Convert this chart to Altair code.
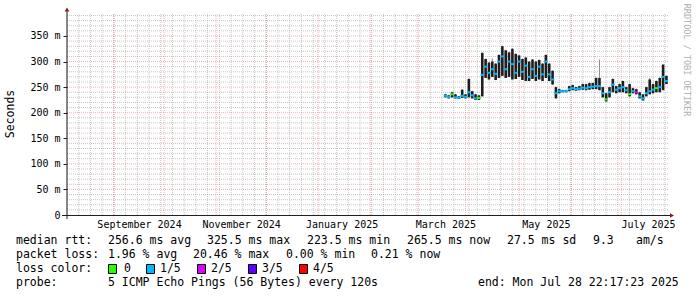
import altair as alt
import pandas as pd

MONO = "DejaVu Sans Mono"

# ---------------- data ----------------
START = "2025-03-17"
STEP_DAYS = 2
median_ms = [233, 231, 236, 230, 229, 233, 231, 240, 234, 228,
             229, 274, 290, 278, 285, 276, 300, 310, 285, 300,
             295, 278, 300, 280, 292, 270, 285, 272, 290, 275,
             300, 275, 265, 238, 242, 242, 242, 246, 248, 246,
             247, 249, 248, 250, 251, 252, 252, 238, 226, 240,
             255, 245, 248, 250, 244, 236, 242, 240, 232, 228,
             238, 242, 245, 248, 250, 270, 262]
low_ms = [230, 228, 230, 228, 227, 229, 228, 230, 228, 225,
          225, 232, 268, 265, 270, 264, 268, 272, 268, 270,
          265, 266, 270, 264, 262, 262, 266, 262, 265, 262,
          268, 262, 255, 228, 238, 240, 240, 242, 244, 243,
          244, 245, 244, 245, 246, 246, 244, 230, 222, 230,
          240, 238, 240, 240, 238, 232, 238, 236, 228, 224,
          232, 236, 238, 240, 240, 244, 256]
high_ms = [236, 234, 240, 236, 232, 245, 236, 266, 242, 236,
           234, 317, 305, 298, 300, 296, 313, 330, 322, 318,
           325, 315, 312, 305, 308, 300, 304, 300, 303, 296,
           313, 296, 282, 250, 246, 244, 244, 252, 254, 250,
           252, 256, 256, 258, 258, 268, 268, 250, 238, 250,
           266, 252, 256, 262, 250, 256, 248, 246, 240, 236,
           250, 265, 256, 262, 268, 294, 272]
outer_high_ms = [237, 235, 241, 237, 233, 246, 237, 267, 243, 237,
                 235, 318, 306, 299, 306, 297, 314, 331, 323, 319,
                 326, 316, 313, 306, 309, 301, 305, 301, 304, 297,
                 314, 297, 283, 251, 247, 245, 245, 253, 255, 251,
                 253, 257, 257, 259, 259, 269, 304, 251, 239, 251,
                 267, 253, 257, 263, 251, 257, 249, 247, 241, 237,
                 251, 268, 257, 263, 269, 295, 273]
loss_idx = [1, 1, 0, 1, 1, 1, 1, 1, 1, 1,
            0, 1, 1, 1, 1, 1, 1, 1, 1, 1,
            1, 1, 1, 1, 1, 1, 1, 1, 1, 1,
            1, 1, 1, 1, 1, 1, 1, 1, 1, 1,
            1, 1, 1, 1, 1, 1, 1, 1, 0, 1,
            1, 1, 1, 1, 1, 0, 1, 2, 1, 1,
            1, 1, 1, 0, 1, 1, 1]

loss_labels = ["0", "1/5", "2/5", "3/5", "4/5"]
loss_colors = ["#26ff00", "#00b8ff", "#dd00ff", "#5e00ff", "#ff0000"]

y_tick_values = [0, 50, 100, 150, 200, 250, 300, 350]
x_label_dates = [(2024, 9, 16), (2024, 11, 16), (2025, 1, 15),
                 (2025, 3, 18), (2025, 5, 17), (2025, 7, 17)]

rtt_title = "median rtt:"
rtt_stats = ["256.6 ms avg", "325.5 ms max", "223.5 ms min",
             "265.5 ms now", "27.5 ms sd", "9.3", "am/s"]
loss_title = "packet loss:"
loss_stats = ["1.96 % avg", "20.46 % max", "0.00 % min", "0.21 % now"]
color_title = "loss color:"
probe_title = "probe:"
probe_text = "5 ICMP Echo Pings (56 Bytes) every 120s"
end_text = "end: Mon Jul 28 22:17:23 2025"
y_title = "Seconds"
watermark = "RRDTOOL / TOBI OETIKER"

# ---------------- tables ----------------
t0 = pd.Timestamp(START)
n = len(median_ms)
ts = [t0 + pd.Timedelta(days=STEP_DAYS * i) for i in range(n)]
fmt = "%Y-%m-%dT%H:%M:%SZ"
df = pd.DataFrame({
    "t": [x.strftime(fmt) for x in ts],
    "tc": [(x + pd.Timedelta(days=STEP_DAYS / 2)).strftime(fmt) for x in ts],
    "t2": [(x + pd.Timedelta(days=STEP_DAYS)).strftime(fmt) for x in ts],
    "m": median_ms, "lo": low_ms, "hi": high_ms, "ohi": outer_high_ms,
    "loss": [loss_labels[k] for k in loss_idx],
})

weeks = pd.date_range("2024-08-04", "2025-07-28", freq="7D")
months = pd.date_range("2024-09-01", "2025-07-01", freq="MS")
df_weeks = pd.DataFrame({"t": [x.strftime(fmt) for x in weeks]})
df_months = pd.DataFrame({"t": [x.strftime(fmt) for x in months]})
df_ymin = pd.DataFrame({"v": [v for v in range(10, 400, 10) if v % 50 != 0]})
df_ymaj = pd.DataFrame({"v": [v for v in y_tick_values if v > 0]})

W, H = 601, 201
xscale = alt.Scale(type="utc",
                   domain=[alt.DateTime(year=2024, month=8, date=4, utc=True),
                           alt.DateTime(year=2025, month=7, date=28, hours=22,
                                        minutes=17, seconds=23, utc=True)])
yscale = alt.Scale(domain=[0, 393], nice=False, zero=True)

x_axis = alt.Axis(values=[alt.DateTime(year=y, month=m, date=d, utc=True) for (y, m, d) in x_label_dates],
                  labelExpr="utcFormat(datum.value, '%B %Y')",
                  labelFont=MONO, labelFontSize=10,
                  labelColor="black", tickSize=0, domain=False, grid=False, labelPadding=4,
                  title=None, labelOverlap=False, labelFlush=False)
y_axis = alt.Axis(values=y_tick_values, labelExpr="datum.value == 0 ? '0' : datum.value + ' m'",
                  labelFont=MONO, labelFontSize=10, labelColor="black", tickSize=4,
                  tickColor="#1f1f1f", domain=False, grid=False, labelPadding=3, title=None)

X = lambda f: alt.X(f, scale=xscale, axis=x_axis)
Y = lambda f: alt.Y(f, scale=yscale, axis=y_axis)

GRID = "#8f8f8f"
MGRID = "#de4f4f"

minor_x = alt.Chart(df_weeks).mark_rule(color=GRID, opacity=0.5, strokeDash=[1, 1], strokeWidth=1).encode(
    x=X("t:T"))
major_x = alt.Chart(df_months).mark_rule(color=MGRID, opacity=0.42, strokeDash=[1, 1], strokeWidth=1).encode(
    x=X("t:T"))
minor_y = alt.Chart(df_ymin).mark_rule(color=GRID, opacity=0.5, strokeDash=[1, 1], strokeWidth=1).encode(
    y=Y("v:Q"))
major_y = alt.Chart(df_ymaj).mark_rule(color=MGRID, opacity=0.42, strokeDash=[1, 1], strokeWidth=1).encode(
    y=Y("v:Q"))

smoke_outer = alt.Chart(df).mark_rule(color="#8a8a8a", strokeWidth=1, clip=True).encode(
    x=X("tc:T"), y=Y("lo:Q"), y2="ohi:Q")
smoke = alt.Chart(df).mark_rule(color="#1e1e1e", strokeWidth=2.6, clip=True).encode(
    x=X("tc:T"), y=Y("lo:Q"), y2="hi:Q")
median = alt.Chart(df).mark_rule(strokeWidth=2, clip=True).encode(
    x=X("t:T"), x2="t2:T", y=Y("m:Q"),
    color=alt.Color("loss:N", scale=alt.Scale(domain=loss_labels, range=loss_colors), legend=None))


def one(s):
    return alt.Chart(pd.DataFrame({"s": [s]}))


def txt(s, x, y, size=11.5, color="black", angle=0, align="left"):
    return one(s).mark_text(font=MONO, fontSize=size, align=align, baseline="middle",
                            color=color, angle=angle).encode(
        text="s:N", x=alt.value(x), y=alt.value(y))


OX, OY = 67, 14
layers = [minor_x, minor_y, major_x, major_y, smoke_outer, smoke, median]

# axis lines and arrows
layers.append(one("xaxis").mark_rule(color="#1f1f1f", strokeWidth=1).encode(
    x=alt.value(62 - OX), x2=alt.value(670 - OX), y=alt.value(215.5 - OY)))
layers.append(one("yaxis").mark_rule(color="#1f1f1f", strokeWidth=1).encode(
    x=alt.value(67 - OX), y=alt.value(9 - OY), y2=alt.value(219 - OY)))
layers.append(one("up").mark_point(shape="triangle-up", filled=True, color="#801f1f", opacity=1, size=22).encode(
    x=alt.value(67 - OX), y=alt.value(9.5 - OY)))
layers.append(one("right").mark_point(shape="triangle-right", filled=True, color="#801f1f", opacity=1, size=22).encode(
    x=alt.value(672 - OX), y=alt.value(215.5 - OY)))

# titles
layers.append(txt(y_title, 11 - OX, 114 - OY, angle=270, align="center"))
layers.append(txt(watermark, 687 - OX, 60 - OY, size=8.5, color="#b0b0b0", angle=90, align="center"))

# legend rows
R1, R2, R3, R4 = 241 - OY, 255 - OY, 268.5 - OY, 283 - OY
layers.append(txt(rtt_title, 16 - OX, R1))
for s, x in zip(rtt_stats, [108, 207, 307, 407, 507, 593, 636]):
    layers.append(txt(s, x - OX, R1))
layers.append(txt(loss_title, 16 - OX, R2))
for s, x in zip(loss_stats, [108, 193, 286, 371]):
    layers.append(txt(s, x - OX, R2))
layers.append(txt(color_title, 16 - OX, R3))
for lab, col, bx, tx in zip(loss_labels, loss_colors, [108, 146, 197, 248, 299], [124, 160, 211, 262, 313]):
    layers.append(one(lab).mark_rect(color=col, stroke="black", strokeWidth=1).encode(
        x=alt.value(bx + 0.5 - OX), x2=alt.value(bx + 8.5 - OX),
        y=alt.value(264.5 - OY), y2=alt.value(273.5 - OY)))
    layers.append(txt(lab, tx - OX, R3))
layers.append(txt(probe_title, 16 - OX, R4))
layers.append(txt(probe_text, 108 - OX, R4))
layers.append(txt(end_text, 478 - OX, R4))

chart = alt.layer(*layers).properties(
    width=W, height=H,
    padding={"left": 67, "top": 14, "right": 29, "bottom": 82},
    autosize=alt.AutoSizeParams(type="none"),
    background="white",
).configure_view(stroke=None)

chart.save("out.html", embed_options={"renderer": "svg", "actions": False})
